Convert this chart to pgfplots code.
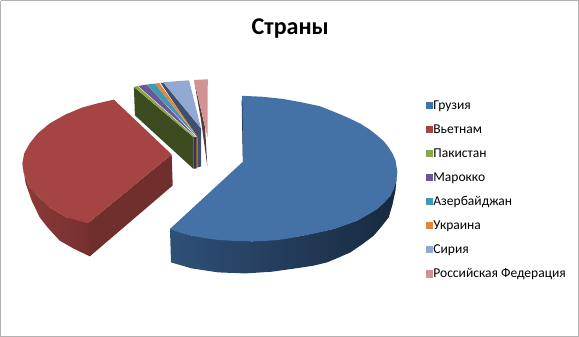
\documentclass[border=0pt]{standalone}
\usepackage{fontspec}
\setmainfont{Carlito}
\usepackage{pgfplots}
\pgfplotsset{compat=1.18}
\definecolor{cGe}{HTML}{4471A6}
\definecolor{cVn}{HTML}{A54442}
\definecolor{cPk}{HTML}{88A64A}
\definecolor{cMa}{HTML}{6F5595}
\definecolor{cAz}{HTML}{3F99B2}
\definecolor{cUa}{HTML}{E0853A}
\definecolor{cSy}{HTML}{92A9D4}
\definecolor{cRu}{HTML}{D49393}
\definecolor{sideL}{HTML}{2F5078}
\definecolor{sideM}{HTML}{1D3350}
\definecolor{sideR}{HTML}{17293F}
\definecolor{slate}{HTML}{3F4F6E}
\definecolor{navy}{HTML}{2A3560}
\pgfplotsset{sq/.style={legend image code/.code={\fill[#1] (-2pt,-1.6pt) rectangle (5.6pt,5.6pt);}}}
\begin{document}
\begin{tikzpicture}
\begin{axis}[
  scale only axis, width=579pt, height=337pt,
  xmin=0, xmax=579, ymin=0, ymax=337, y dir=reverse,
  axis lines=none, clip=false,
  title={\textbf{Страны}},
  title style={at={(axis cs:290,34)},anchor=center,font=\fontsize{24}{28}\selectfont},
  legend cell align=left,
  legend style={draw=none,fill=none,at={(axis cs:425,99)},anchor=north west,
    font=\fontsize{13.5}{15}\selectfont,row sep=8pt,inner sep=0pt,
    nodes={inner sep=0pt,text height=10pt,text depth=6pt},
    /tikz/every even column/.append style={column sep=4.6pt}},
  every axis plot/.append style={draw=none},
]
% frame
\addplot[draw=black!30,line width=1.2pt,forget plot] coordinates {(1,0.5)(1,335.5)(577.5,335.5)(577.5,0.5)(1,0.5)};
\addlegendimage{sq=cGe}\addlegendentry{Грузия}
\addlegendimage{sq=cVn}\addlegendentry{Вьетнам}
\addlegendimage{sq=cPk}\addlegendentry{Пакистан}
\addlegendimage{sq=cMa}\addlegendentry{Марокко}
\addlegendimage{sq=cAz}\addlegendentry{Азербайджан}
\addlegendimage{sq=cUa}\addlegendentry{Украина}
\addlegendimage{sq=cSy}\addlegendentry{Сирия}
\addlegendimage{sq=cRu}\addlegendentry{Российская Федерация}
% Georgia side
\addplot[shade,left color=sideL,middle color=sideM,right color=sideR,forget plot] coordinates {(396.7,170)(396,180)(390,195)(376.7,208.3)(356.7,220)(333.3,228.3)(300,235.5)(251.7,240.7)(191.7,235)(170,228.3)
 (171,261.7)(191.7,267.7)(218.3,271.7)(245,272.7)(271.7,271)(300,267)(313,265)(326.7,261.7)(338,257)(350,251.7)(362,243.5)(373.3,235)(381,226)(388.3,216.7)(392,204)(395,190)} -- cycle;
% Georgia inner
\addplot[fill=black!75!cGe,forget plot] coordinates {(241.5,100)(242.7,161)(245,161)(243.5,100)} -- cycle;
% Georgia top
\addplot[fill=cGe,forget plot] coordinates {(243,161)(242,95.5)(263,96.5)(282,98.5)(300,101.7)(320,106)(340,114)(350,118.5)(360,123.3)(369,129)(376.7,135)(383,140.5)(388,146.7)(392,153)(395,160)(396.7,170)(396,180)(393.5,188)(390,195)(384,202)(376.7,208.3)(367,214.5)(356.7,220)(345,224.5)(333.3,228.3)(316,232.5)(300,235.5)(290,237.5)(278.3,239.3)(265,240.3)(251.7,240.7)(235,240.3)(218.3,239.3)(205,237.5)(191.7,235)(180,232)(170,228.3)} -- cycle;
% Vietnam curved side
\addplot[shade,left color=cVn!85!black,right color=cVn!70!black,forget plot] coordinates {(22.7,163)(24,172)(30,186.7)(40,197)(50,206.7)(66.7,216.7)(95,222)(95,250)(90,255.7)(74,248)(60,240)(48,227)(40,216.7)(32,200)(26,183)} -- cycle;
\addplot[fill=cVn!68!black,forget plot] coordinates {(88,222.7)(171.7,154)(172.7,185)(90,255.7)} -- cycle;
% Vietnam top
\addplot[fill=cVn,forget plot] coordinates {(171.7,154)(114,99.3)(98,103)(83,107)(66,114)(50,123)(38,133)(30,143)(24.5,153)(22.7,163)(24,172)(30,186.7)(40,197)(50,206.7)(66.7,216.7)(88,222.7)} -- cycle;
% small slices: faces
\addplot[fill=cPk!45!black,forget plot] coordinates {(134,86.7)(193.3,136.7)(193.3,168.3)(135,115)} -- cycle;
\addplot[fill=navy,forget plot] coordinates {(193.3,136.7)(196.2,136.7)(196.2,168)(193.3,168.3)} -- cycle;
\addplot[fill=cUa!70!black,forget plot] coordinates {(196.2,136.7)(197.4,136.7)(197.4,167.5)(196.2,168)} -- cycle;
\addplot[fill=slate,forget plot] coordinates {(160.5,82.5)(164,83)(201,128)(201,166)(197.4,166.8)(197.3,137)} -- cycle;
\addplot[fill=cPk,forget plot] coordinates {(134,86.7)(137.3,85.7)(195,136.7)(193.3,136.7)} -- cycle;
\addplot[fill=cMa,forget plot] coordinates {(138.3,85.7)(146.7,84.3)(196,136.7)} -- cycle;
\addplot[fill=cAz,forget plot] coordinates {(146.7,84.3)(155,83.3)(197.3,136.7)} -- cycle;
\addplot[fill=cUa,forget plot] coordinates {(155,83.3)(159.3,82.7)(198,136.7)} -- cycle;
\addplot[fill=cSy,forget plot] coordinates {(163,82)(189,80)(201,128)} -- cycle;
\addplot[fill=cRu!40!black,forget plot] coordinates {(194,80)(205,127)(207.3,166)(200.7,118)} -- cycle;
\addplot[fill=cRu,forget plot] coordinates {(194,79.7)(207.7,79)(207.5,137)(204,122)} -- cycle;
\end{axis}
\end{tikzpicture}
\end{document}
